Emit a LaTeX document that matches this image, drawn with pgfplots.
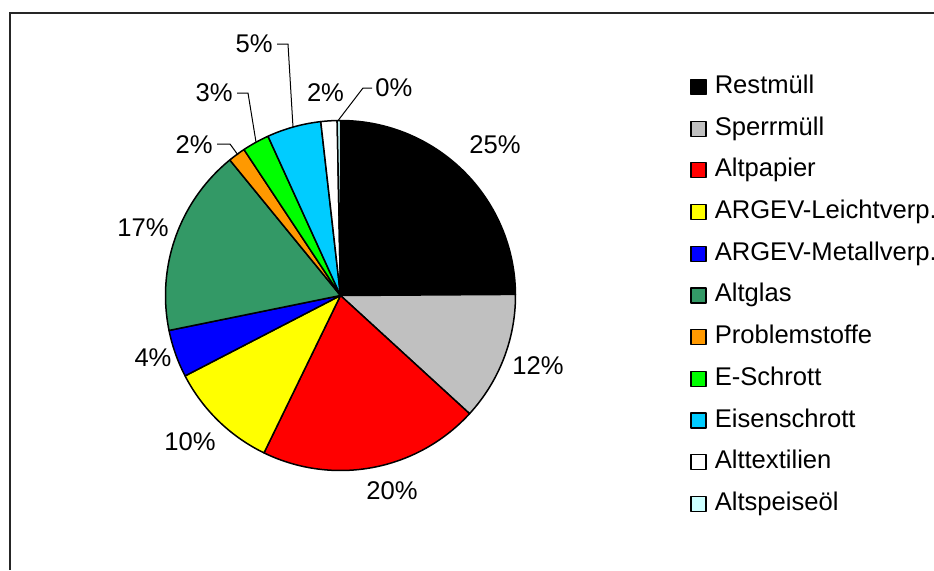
\documentclass[border=0pt]{standalone}
\usepackage{fontspec}
\setmainfont{Liberation Sans}
\usepackage{pgfplots}
\pgfplotsset{compat=1.18}
\definecolor{cRest}{HTML}{000000}
\definecolor{cSperr}{HTML}{C0C0C0}
\definecolor{cPapier}{HTML}{FF0000}
\definecolor{cLeicht}{HTML}{FFFF00}
\definecolor{cMetall}{HTML}{0000FF}
\definecolor{cGlas}{HTML}{339966}
\definecolor{cProblem}{HTML}{FF9900}
\definecolor{cE}{HTML}{00FF00}
\definecolor{cEisen}{HTML}{00CCFF}
\definecolor{cTextil}{HTML}{FFFFFF}
\definecolor{cOel}{HTML}{CCFFFF}
\newcommand\cx{340.5}
\newcommand\cy{274.5}
\newcommand\rr{175}
\gdef\cum{0}
% \slice{percentage}{colour}{name}
\newcommand\slice[3]{%
  \pgfmathsetmacro\aS{90-3.6*\cum}%
  \pgfmathsetmacro\aE{90-3.6*(\cum+#1)}%
  \addplot[fill=#2, draw=black, line width=0.75pt, line join=round,
    domain=\aE:\aS, samples=60, variable=\t]
    ({\cx+\rr*cos(\t)},{\cy+\rr*sin(\t)}) -- (axis cs:\cx,\cy) -- cycle;
  \addlegendentry{#3}
  \pgfmathsetmacro\tmp{\cum+#1}\xdef\cum{\tmp}%
}
\begin{document}
\fontsize{12.8}{15}\selectfont
\begin{tikzpicture}
\begin{axis}[
  width=467pt, height=285pt, scale only axis,
  xmin=0, xmax=934, ymin=0, ymax=570,
  hide axis, clip=false,
  legend image code/.code={\draw[#1, line width=0.6pt] (0pt,-3.75pt) rectangle (7.5pt,3.75pt); \path (10.5pt,0pt);},
  legend cell align=left,
  legend style={at={(axis cs:690,497)}, anchor=north west, draw=none, fill=none,
    inner sep=0pt, row sep=7.35pt, font=\fontsize{12.8}{15}\selectfont,
    nodes={inner sep=1pt, text height=9pt, text depth=2.5pt}},
]
\coordinate (bl) at (axis cs:0,0);
\coordinate (tr) at (axis cs:934,570);
\slice{24.9}{cRest}{Restmüll}
\slice{11.9}{cSperr}{Sperrmüll}
\slice{20.4}{cPapier}{Altpapier}
\slice{10.2}{cLeicht}{ARGEV-Leichtverp.}
\slice{4.4}{cMetall}{ARGEV-Metallverp.}
\slice{17.3}{cGlas}{Altglas}
\slice{1.6}{cProblem}{Problemstoffe}
\slice{2.5}{cE}{E-Schrott}
\slice{5.0}{cEisen}{Eisenschrott}
\slice{1.5}{cTextil}{Alttextilien}
\slice{0.3}{cOel}{Altspeiseöl}
% percentage labels
\node at (axis cs:495,425) {25\%};
\node at (axis cs:538,204) {12\%};
\node at (axis cs:392,79) {20\%};
\node at (axis cs:190,128) {10\%};
\node at (axis cs:153,212) {4\%};
\node at (axis cs:143,342) {17\%};
\node[anchor=east, inner sep=0pt] at (axis cs:213,425) {2\%};
\node[anchor=east, inner sep=0pt] at (axis cs:233,477) {3\%};
\node[anchor=east, inner sep=0pt] at (axis cs:273,526) {5\%};
\node at (axis cs:325.5,477) {2\%};
\node[anchor=west, inner sep=0pt] at (axis cs:375,482) {0\%};
% leader lines
\draw[line width=0.5pt] (axis cs:217,426) -- (axis cs:230,426) -- (axis cs:238,415);
\draw[line width=0.5pt] (axis cs:237,477) -- (axis cs:248,477) -- (axis cs:256,428);
\draw[line width=0.5pt] (axis cs:277,526) -- (axis cs:288,526) -- (axis cs:293,443);
\draw[line width=0.5pt] (axis cs:372,482) -- (axis cs:363,482) -- (axis cs:338.5,450);
% chart area border (top and left edges visible)
\draw[line width=1pt, black!85] (axis cs:10,0) -- (axis cs:10,557) -- (axis cs:934,557);
\end{axis}
\pgfresetboundingbox
\useasboundingbox (bl) rectangle (tr);
\end{tikzpicture}
\end{document}
